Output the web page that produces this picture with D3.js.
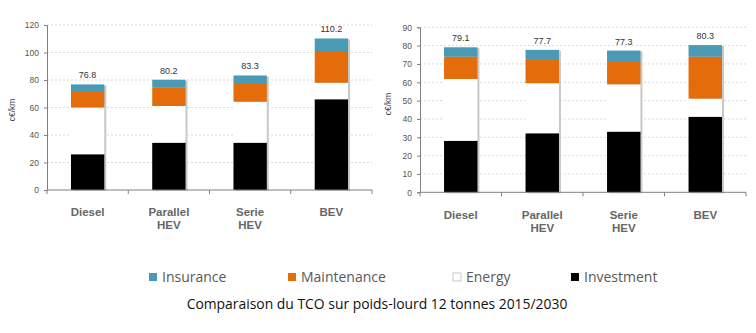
<!DOCTYPE html>
<html><head><meta charset="utf-8">
<script src="https://cdn.jsdelivr.net/npm/d3@7"></script>
<style>body{margin:0;background:#fff}svg{display:block}</style>
</head><body>
<svg id="c" width="756" height="333"></svg>
<script>
const categories = ["Diesel", "Parallel\nHEV", "Serie\nHEV", "BEV"];
const seriesNames = ["Investment", "Energy", "Maintenance", "Insurance"];
// 2015 (left)
const investment2015 = [26.0, 34.4, 34.4, 66.0];
const energy2015 = [34.0, 26.7, 29.8, 12.0];
const maintenance2015 = [12.0, 13.6, 12.9, 23.1];
const insurance2015 = [4.8, 5.5, 6.2, 9.1];
const totals2015 = ["76.8", "80.2", "83.3", "110.2"];
const yTicks2015 = [0, 20, 40, 60, 80, 100, 120];
// 2030 (right)
const investment2030 = [28.1, 32.2, 33.1, 41.2];
const energy2030 = [33.7, 27.3, 25.8, 9.9];
const maintenance2030 = [12.2, 12.7, 12.7, 22.9];
const insurance2030 = [5.1, 5.5, 5.7, 6.3];
const totals2030 = ["79.1", "77.7", "77.3", "80.3"];
const yTicks2030 = [0, 10, 20, 30, 40, 50, 60, 70, 80, 90];
const yLabel = "c€/km";
const legendOrder = ["Insurance", "Maintenance", "Energy", "Investment"];
const title = "Comparaison du TCO sur poids-lourd 12 tonnes 2015/2030";

const colors = {Investment: "#000000", Energy: "#ffffff", Maintenance: "#e46c0a", Insurance: "#4a9ab5"};
const svg = d3.select("#c");

function chart(cfg) {
  const {x0, x1, y0, y1, yMax, ticks, inv, en, ma, ins, totals, labelY, ylabX, ylabY} = cfg;
  const rows = categories.map((c, i) => ({cat: c, Investment: inv[i], Energy: en[i], Maintenance: ma[i], Insurance: ins[i], total: totals[i]}));
  const x = d3.scaleBand().domain(categories).range([x0, x1]).paddingInner(0.59).paddingOuter(0.295);
  const y = d3.scaleLinear().domain([0, yMax]).range([y0, y1]);
  const g = svg.append("g");
  g.append("g").selectAll("line").data(ticks.filter(t => t > 0)).join("line")
    .attr("x1", x0).attr("x2", x1).attr("y1", d => y(d)).attr("y2", d => y(d))
    .attr("stroke", "#cfcfcf").attr("stroke-width", 0.8).attr("stroke-dasharray", "2,2");
  const ya = d3.axisLeft(y).tickValues(ticks).tickSize(3).tickPadding(5);
  const yg = g.append("g").attr("transform", `translate(${x0},0)`).call(ya);
  yg.select(".domain").attr("stroke", "#808080").attr("stroke-width", 1);
  yg.selectAll(".tick line").attr("stroke", "#808080");
  yg.selectAll("text").attr("fill", "#555").attr("font-size", 8.5).attr("font-family", "Liberation Sans, Arial");
  const stack = d3.stack().keys(seriesNames)(rows);
  const bw = x.bandwidth();
  const tot = d => d.Investment + d.Energy + d.Maintenance + d.Insurance;
  g.append("g").selectAll("rect").data(rows).join("rect")
    .attr("x", d => x(d.cat) + 2).attr("width", bw)
    .attr("y", d => y(tot(d)) + 1)
    .attr("height", d => y0 - y(tot(d)))
    .attr("fill", "#c8c8c8");
  stack.forEach(s => {
    g.append("g").selectAll("rect").data(s).join("rect")
      .attr("x", d => x(d.data.cat)).attr("width", bw)
      .attr("y", d => y(d[1])).attr("height", d => y(d[0]) - y(d[1]))
      .attr("fill", colors[s.key]);
  });
  const xa = g.append("g");
  xa.append("line").attr("x1", x0).attr("x2", x1).attr("y1", y0).attr("y2", y0).attr("stroke", "#808080");
  const step = x.step();
  d3.range(categories.length + 1).forEach(i => {
    xa.append("line").attr("x1", x0 + i * step).attr("x2", x0 + i * step).attr("y1", y0).attr("y2", y0 + 4).attr("stroke", "#808080");
  });
  rows.forEach(d => {
    const t = g.append("text").attr("x", x(d.cat) + bw / 2).attr("y", labelY).attr("text-anchor", "middle")
      .attr("font-family", "Liberation Sans, Arial").attr("font-weight", "bold").attr("font-size", 11.5).attr("fill", "#666");
    d.cat.split("\n").forEach((ln, k) => t.append("tspan").attr("x", x(d.cat) + bw / 2).attr("dy", k ? 13 : 0).text(ln));
  });
  g.append("g").selectAll("text").data(rows).join("text")
    .attr("x", d => x(d.cat) + bw / 2)
    .attr("y", d => y(tot(d)) - 6)
    .attr("text-anchor", "middle").attr("font-family", "Liberation Sans, Arial").attr("font-size", 9).attr("fill", "#333")
    .text(d => d.total);
  g.append("text").attr("transform", `translate(${ylabX},${ylabY}) rotate(-90)`).attr("text-anchor", "middle")
    .attr("font-family", "Liberation Sans, Arial").attr("font-size", 8.5).attr("fill", "#444").text(yLabel);
}

chart({x0: 47, x1: 372, y0: 190, y1: 25, yMax: 120, ticks: yTicks2015,
  inv: investment2015, en: energy2015, ma: maintenance2015, ins: insurance2015, totals: totals2015,
  labelY: 216, ylabX: 15, ylabY: 110});
chart({x0: 420, x1: 746, y0: 192.3, y1: 27.3, yMax: 90, ticks: yTicks2030,
  inv: investment2030, en: energy2030, ma: maintenance2030, ins: insurance2030, totals: totals2030,
  labelY: 219, ylabX: 391, ylabY: 104});

const legX = [149, 288, 453, 571];
const leg = svg.append("g");
legendOrder.forEach((k, i) => {
  leg.append("rect").attr("x", legX[i]).attr("y", 273).attr("width", 8).attr("height", 8)
    .attr("fill", colors[k]).attr("stroke", k === "Energy" ? "#bbb" : "none").attr("stroke-width", 0.8);
  leg.append("text").attr("x", legX[i] + 13).attr("y", 282).attr("font-family", "Open Sans, sans-serif")
    .attr("font-size", 14).attr("fill", "#595959").text(k);
});
svg.append("text").attr("x", 377).attr("y", 309).attr("text-anchor", "middle")
  .attr("font-family", "Open Sans, sans-serif").attr("font-size", 13.9).attr("fill", "#111").text(title);
</script>
</body></html>
